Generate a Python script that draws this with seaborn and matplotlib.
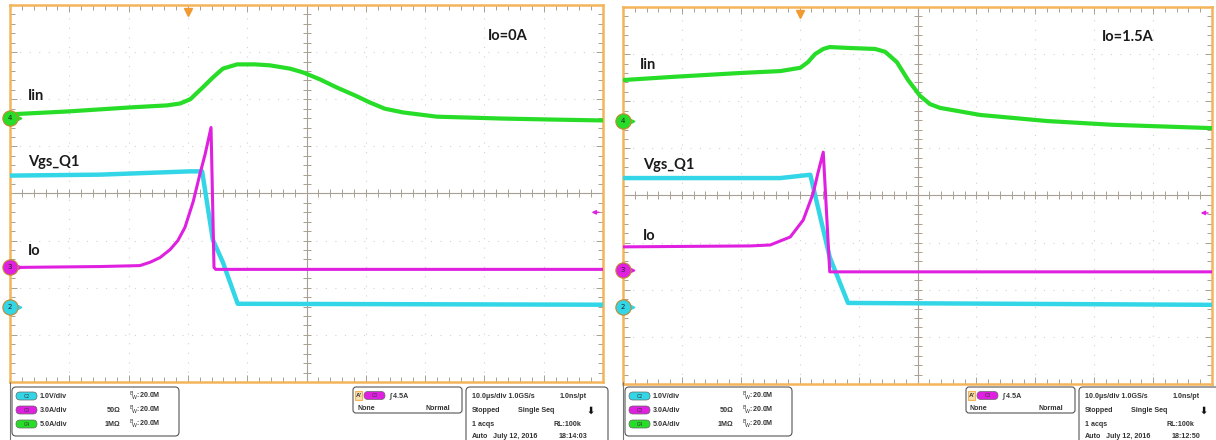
import numpy as np
import pandas as pd
import matplotlib
matplotlib.use("Agg")
import matplotlib.pyplot as plt
from matplotlib.patches import FancyBboxPatch, Rectangle
from matplotlib.ticker import MultipleLocator
import seaborn as sns

# time in us (10 us/div), level in screen divisions (center = 0)
L_IIN_T = [0, 9.6, 20.7, 26.5, 28.7, 30.4, 32.5, 34.2, 35.9, 38.3, 41.3, 43.8, 47.2, 49.4,
           52.3, 55.1, 58.2, 60.7, 63.2, 66.3, 72.0, 77.6, 83.1, 91.1, 100]
L_IIN_V = [1.68, 1.74, 1.83, 1.87, 1.91, 2.00, 2.25, 2.46, 2.65, 2.74, 2.74, 2.72, 2.65, 2.57,
           2.42, 2.25, 2.08, 1.93, 1.80, 1.72, 1.63, 1.61, 1.59, 1.57, 1.55]
L_VGS_T = [0, 15.2, 30.4, 32.4, 34.2, 35.9, 38.4, 100]
L_VGS_V = [0.38, 0.40, 0.47, 0.47, -0.98, -1.46, -2.34, -2.36]
L_IO_T = [0, 15.2, 21.9, 23.6, 25.3, 27.0, 28.3, 29.5, 30.9, 32.0, 32.9, 33.9, 34.4, 34.7, 100]
L_IO_V = [-1.57, -1.55, -1.53, -1.46, -1.36, -1.19, -1.00, -0.72, -0.17, 0.40, 0.83, 1.40,
          -1.57, -1.61, -1.61]

R_IIN_T = [0, 8.8, 20.0, 26.7, 30.1, 31.4, 32.6, 34.0, 35.1, 38.5, 42.8, 44.5, 46.5, 48.4,
           50.4, 52.1, 53.8, 60.6, 72.0, 83.2, 100]
R_IIN_V = [2.45, 2.52, 2.60, 2.64, 2.71, 2.83, 3.00, 3.11, 3.15, 3.13, 3.11, 3.05, 2.83, 2.45,
           2.12, 1.94, 1.86, 1.71, 1.58, 1.50, 1.43]
R_VGS_T = [0, 26.7, 31.8, 35.1, 38.2, 100]
R_VGS_V = [0.37, 0.37, 0.44, -1.31, -2.28, -2.32]
R_IO_T = [0, 21.6, 25.0, 28.4, 30.6, 32.3, 33.1, 34.0, 35.1, 100]
R_IO_V = [-1.09, -1.07, -1.05, -0.88, -0.52, 0.05, 0.48, 0.92, -1.62, -1.62]

# channel ground markers (div) : green 4, magenta 3, cyan 2
L_GND = [1.61, -1.57, -2.40]
R_GND = [1.58, -1.58, -2.37]
TRIG_T = 30
TRIG_LEVEL = [-0.40, -0.37]

LOAD_LABELS = ["Io=0A", "Io=1.5A"]
CLOCKS = ["18:14:03", "18:12:50"]
SCALES = ["1.0V/div", "3.0A/div", "5.0A/div"]

GREEN = "#27dd27"
CYAN = "#33d6e6"
MAGENTA = "#e020e0"
ORANGE = "#f4b45a"
GRAT = "#a8a092"

sns.set_style("white")
plt.rcParams["font.family"] = ["Lato", "DejaVu Sans"]

fig = plt.figure(figsize=(12.16, 4.4), dpi=100)


def px_axes(left, top, right, bottom):
    return fig.add_axes([left / 1216, 1 - bottom / 440, (right - left) / 1216, (bottom - top) / 440])


def draw_panel(ax, iin, vgs, io, gnd, trig_level, load_label, label_pos):
    ax.set_xlim(0, 100)
    ax.set_ylim(-4, 4)
    ax.xaxis.set_major_locator(MultipleLocator(10))
    ax.xaxis.set_minor_locator(MultipleLocator(2))
    ax.yaxis.set_major_locator(MultipleLocator(1))
    ax.yaxis.set_minor_locator(MultipleLocator(0.2))
    ax.tick_params(which="both", direction="in", top=True, right=True, bottom=True, left=True,
                   labelbottom=False, labelleft=False, color=GRAT, width=0.7)
    ax.tick_params(which="major", length=5)
    ax.tick_params(which="minor", length=3.5)
    ax.grid(which="major", color="#d2d2d2", lw=0.8, ls=(0, (1, 7.6)))
    for s in ax.spines.values():
        s.set_color(ORANGE)
        s.set_linewidth(1.8)
    # center cross with ticks
    ax.axvline(50, color=GRAT, lw=0.8, zorder=1)
    ax.axhline(0, color=GRAT, lw=0.8, zorder=1)
    xs = np.arange(0, 100.1, 2)
    ax.plot(xs, np.zeros_like(xs), ls="none", marker="|", ms=6, mew=0.7, color=GRAT, zorder=1)
    ys = np.arange(-4, 4.01, 0.2)
    ax.plot(np.full_like(ys, 50), ys, ls="none", marker="_", ms=6, mew=0.7, color=GRAT, zorder=1)

    for (t, v), color, lw in zip([iin, vgs, io], [GREEN, CYAN, MAGENTA], [3.0, 3.2, 2.2]):
        df = pd.DataFrame({"t": t, "v": v})
        sns.lineplot(data=df, x="t", y="v", ax=ax, color=color, lw=lw, sort=False,
                     estimator=None, zorder=3)
    ax.set_xlabel("")
    ax.set_ylabel("")

    # channel markers on left edge
    for lvl, num, color in zip(gnd, ["4", "3", "2"], [GREEN, MAGENTA, CYAN]):
        ax.plot([1.6], [lvl], marker=">", ms=3.5, color=color, clip_on=False, zorder=4)
        ax.plot([0], [lvl], marker="o", ms=11, mfc=color, mec="#c08a30", mew=0.8,
                clip_on=False, zorder=5)
        ax.text(0, lvl, num, ha="center", va="center", fontsize=5, color="#222222",
                family="DejaVu Sans", zorder=6, clip_on=False)

    ax.plot([TRIG_T], [3.86], marker="v", ms=6, color="#f09a30", clip_on=False, zorder=5)
    ax.annotate("", xy=(97.6, trig_level), xytext=(99.8, trig_level),
                arrowprops=dict(arrowstyle="-|>", color=MAGENTA, lw=1, mutation_scale=6))

    for text, (x, y) in zip(["Iin", "Vgs_Q1", "Io", load_label], label_pos):
        ax.text(x, y, text, fontsize=10.5, fontweight="bold", color="#1a1a1a",
                ha="left", va="center", zorder=6)


ax_l = px_axes(10, 5, 603, 382)
draw_panel(ax_l, (L_IIN_T, L_IIN_V), (L_VGS_T, L_VGS_V), (L_IO_T, L_IO_V), L_GND,
           TRIG_LEVEL[0], LOAD_LABELS[0],
           [(3.0, 2.06), (3.0, 0.66), (3.0, -1.21), (80.6, 3.35)])
ax_r = px_axes(623, 7, 1212, 384)
draw_panel(ax_r, (R_IIN_T, R_IIN_V), (R_VGS_T, R_VGS_V), (R_IO_T, R_IO_V), R_GND,
           TRIG_LEVEL[1], LOAD_LABELS[1],
           [(2.9, 2.77), (3.4, 0.65), (3.4, -0.86), (81.3, 3.37)])

# status readout below each screen
ov = fig.add_axes([0, 0, 1, 1])
ov.set_xlim(0, 1216)
ov.set_ylim(440, 0)
ov.axis("off")
ov.patch.set_alpha(0)

TXT = dict(fontsize=5.1, fontweight="bold", color="#333333", va="center",
           family=["Liberation Sans", "DejaVu Sans"])


def badge(x, y, color, label):
    ov.add_patch(FancyBboxPatch((x, y - 4), 21, 8, boxstyle="round,pad=0,rounding_size=4",
                                fc=color, ec="#666666", lw=0.5))
    ov.text(x + 10.5, y, label, ha="center", fontsize=3.5, color="#333333", va="center")


for dx, clock in zip([0, 613], CLOCKS):
    ov.plot([10 + dx, 10 + dx], [382, 440], color="#777777", lw=0.8)
    ov.add_patch(FancyBboxPatch((12 + dx, 387), 167, 49, boxstyle="round,pad=0,rounding_size=4",
                                fc="white", ec="#555555", lw=0.8))
    for y, color, ch, sc, imp in zip([396, 410, 424], [CYAN, MAGENTA, GREEN], ["C2", "C3", "C4"],
                                     SCALES, ["", "50\u03a9", "1M\u03a9"]):
        badge(16 + dx, y, color, ch)
        ov.text(40 + dx, y, sc, **TXT)
        ov.text(120 + dx, y, imp, ha="right", **TXT)
        ov.text(129 + dx, y, r"$^{\rm B}\!_{\rm W}$:20.0M", **TXT)
    # trigger box
    ov.add_patch(FancyBboxPatch((353 + dx, 387), 109, 26, boxstyle="round,pad=0,rounding_size=3",
                                fc="white", ec="#555555", lw=0.8))
    ov.add_patch(Rectangle((355 + dx, 391), 7, 9, fc="#f7dfb0", ec=ORANGE, lw=0.8))
    ov.text(358.5 + dx, 395.5, "A'", ha="center", **dict(TXT, fontsize=4.5))
    badge(364 + dx, 395.5, MAGENTA, "C3")
    ov.text(389 + dx, 395.5, "\u222b 4.5A", **TXT)
    ov.text(357 + dx, 408, "None", **TXT)
    ov.text(450 + dx, 408, "Normal", ha="right", **TXT)
    # acquisition box
    ov.add_patch(FancyBboxPatch((466 + dx, 387), 142, 70, boxstyle="round,pad=0,rounding_size=4",
                                fc="white", ec="#555555", lw=0.8))
    ov.text(472 + dx, 397, "10.0\u00b5s/div 1.0GS/s", **TXT)
    ov.text(587 + dx, 397, "1.0ns/pt", ha="right", **TXT)
    ov.text(472 + dx, 410, "Stopped", **TXT)
    ov.text(518 + dx, 410, "Single Seq", **TXT)
    ov.text(591 + dx, 411, "\u2b07", ha="center", **dict(TXT, fontsize=7, color="#111111",
                                                        family="DejaVu Sans"))
    ov.text(472 + dx, 424, "1 acqs", **TXT)
    ov.text(581 + dx, 424, "RL:100k", ha="right", **TXT)
    ov.text(472 + dx, 437, "Auto", **TXT)
    ov.text(493 + dx, 437, "July 12, 2016", **TXT)
    ov.text(587 + dx, 437, clock, ha="right", **TXT)

fig.savefig("out.png", dpi=100)
